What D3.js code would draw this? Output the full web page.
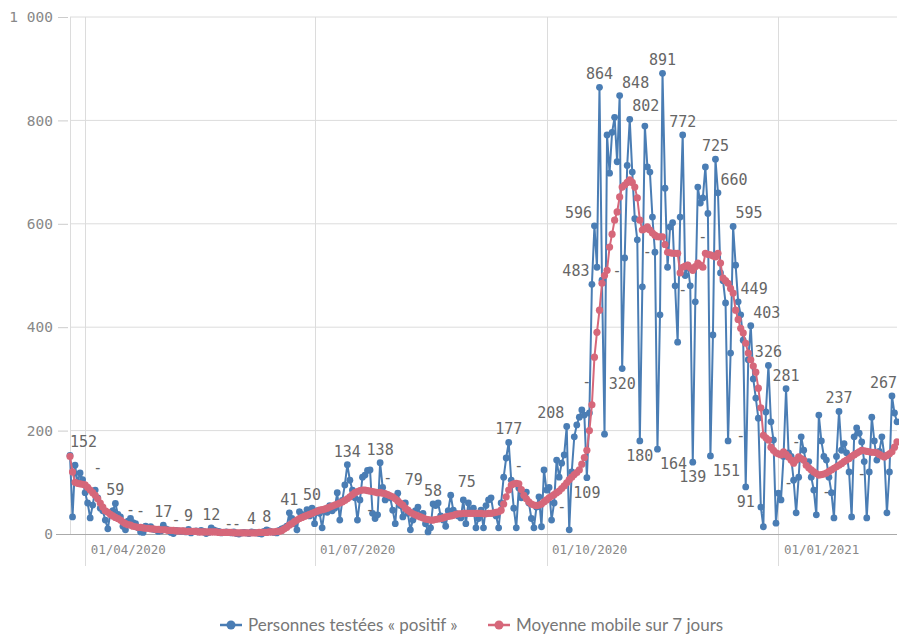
<!DOCTYPE html>
<html>
<head>
<meta charset="utf-8">
<script src="https://cdn.jsdelivr.net/npm/d3@7"></script>
<style>
  body { margin: 0; background: #fff; }
  svg { display: block; }
  .tick text { font-family: "DejaVu Sans Mono", monospace; fill: #888; }
  .lbl { font-family: "DejaVu Sans Mono", monospace; font-size: 15px; fill: #666; }
  .legend text { font-family: Lato, "Open Sans", sans-serif; font-size: 17px; fill: #777; }
</style>
</head>
<body>
<div id="content"></div>
<script>
// Set up canvas
var width = 899, height = 636;

// first and last day of the series
var startDate = "2020-03-26", endDate = "2021-02-17";

// daily positives (one value per day from startDate)
var positifs = [
  152, 33, 133, 100, 118, 105, 80, 60, 31, 56,
  85, 70, 50, 45, 27, 10, 40, 45, 59, 38,
  33, 15, 8, 25, 30, 22, 20, 12, 4, 3,
  15, 12, 14, 9, 8, 5, 6, 17, 10, 8,
  3, 1, 7, 6, 5, 6, 4, 9, 2, 5,
  6, 4, 7, 5, 1, 3, 12, 8, 6, 5,
  2, 3, 4, 3, 2, 4, 1, 0, 2, 3,
  2, 1, 4, 3, 2, 1, 0, 5, 8, 6,
  4, 3, 2, 7, 10, 12, 15, 41, 30, 20,
  8, 43, 38, 35, 47, 35, 50, 20, 45, 40,
  12, 48, 42, 55, 45, 50, 80, 27, 65, 95,
  134, 104, 85, 70, 27, 66, 110, 114, 123, 124,
  40, 30, 37, 138, 90, 66, 75, 70, 46, 20,
  79, 55, 33, 60, 40, 8, 27, 45, 52, 35,
  40, 20, 4, 12, 58, 55, 60, 35, 27, 15,
  45, 75, 46, 40, 35, 31, 66, 20, 60, 45,
  50, 12, 30, 46, 12, 55, 66, 70, 40, 35,
  12, 60, 110, 147, 177, 104, 50, 12, 89, 70,
  75, 81, 60, 30, 12, 52, 72, 14, 124, 85,
  90, 27, 60, 143, 110, 137, 153, 208, 8, 120,
  188, 211, 226, 240, 230, 109, 234, 483, 596, 516,
  864, 491, 193, 772, 698, 777, 806, 720, 848, 320,
  534, 713, 802, 700, 610, 569, 180, 478, 789, 710,
  700, 613, 545, 164, 424, 891, 669, 516, 594, 602,
  480, 371, 613, 772, 500, 520, 480, 139, 449, 671,
  640, 650, 710, 620, 151, 385, 725, 660, 505, 490,
  447, 180, 350, 595, 520, 449, 424, 375, 91, 337,
  403, 300, 263, 224, 52, 14, 236, 326, 217, 182,
  21, 79, 66, 150, 281, 157, 150, 104, 41, 110,
  188, 162, 137, 140, 110, 85, 37, 230, 180, 150,
  143, 110, 80, 31, 150, 237, 162, 175, 157, 120,
  33, 188, 205, 195, 178, 140, 31, 120, 226, 180,
  143, 160, 188, 150, 41, 120, 267, 234, 217
];

// 7 day moving average
var moyenne = [
  150, 120, 100, 98, 97, 96, 95, 90, 85, 80,
  75, 68, 60, 52, 45, 42, 38, 35, 32, 30,
  27, 23, 20, 18, 17, 15, 14, 13, 13, 12,
  11, 11, 10, 10, 9, 9, 8, 8, 8, 7,
  7, 7, 6, 6, 6, 6, 5, 5, 5, 5,
  5, 4, 4, 4, 4, 4, 4, 4, 4, 3,
  3, 3, 3, 3, 3, 2, 2, 2, 2, 2,
  2, 2, 2, 2, 2, 3, 3, 3, 3, 4,
  4, 4, 5, 5, 7, 10, 13, 17, 20, 24,
  27, 30, 32, 34, 36, 38, 40, 42, 44, 46,
  47, 48, 50, 52, 54, 56, 58, 60, 62, 65,
  68, 72, 76, 80, 82, 84, 85, 85, 84, 83,
  82, 81, 80, 80, 79, 78, 76, 74, 72, 68,
  64, 60, 56, 50, 46, 42, 39, 37, 35, 33,
  31, 29, 28, 27, 27, 28, 29, 30, 31, 33,
  34, 35, 36, 38, 39, 39, 40, 40, 40, 40,
  40, 40, 40, 40, 39, 39, 40, 40, 41, 42,
  43, 46, 58, 72, 85, 95, 97, 98, 97, 86,
  75, 68, 62, 58, 56, 55, 56, 58, 62, 66,
  70, 73, 76, 80, 83, 88, 93, 99, 105, 110,
  115, 119, 124, 135, 148, 162, 200, 250, 342, 390,
  433, 485, 500, 510, 555, 580, 607, 623, 652, 671,
  675, 680, 685, 680, 671, 650, 607, 588, 590, 594,
  588, 582, 578, 575, 575, 575, 560, 545, 544, 543,
  543, 543, 505, 516, 518, 520, 515, 510, 517, 524,
  520, 516, 543, 541, 540, 538, 536, 543, 524, 495,
  490, 485, 475, 466, 433, 415, 398, 389, 369, 350,
  337, 325, 313, 282, 244, 191, 186, 182, 168, 162,
  157, 155, 153, 159, 154, 149, 143, 137, 143, 149,
  146, 143, 133, 128, 124, 120, 117, 114, 115, 116,
  118, 121, 124, 127, 130, 133, 136, 140, 143, 146,
  150, 153, 156, 159, 162, 161, 160, 159, 158, 158,
  157, 154, 151, 149, 152, 155, 159, 168, 178
];

// days that carry a value label
var labelDates = [
  "2020-03-26", "2020-04-13", "2020-05-02", "2020-05-12", "2020-05-21",
  "2020-06-06", "2020-06-12", "2020-06-21", "2020-06-30", "2020-07-14",
  "2020-07-27", "2020-08-03", "2020-08-17", "2020-08-24", "2020-09-16",
  "2020-10-09", "2020-10-17", "2020-10-19", "2020-10-20", "2020-10-22",
  "2020-10-30", "2020-10-31", "2020-11-03", "2020-11-07", "2020-11-14",
  "2020-11-16", "2020-11-24", "2020-11-28", "2020-12-05", "2020-12-07",
  "2020-12-08", "2020-12-14", "2020-12-16", "2020-12-19", "2020-12-21",
  "2020-12-28", "2021-01-04", "2021-01-25", "2021-02-15"
];

// the "-" labels (day, level)
var dashDates = [
  "2020-04-06", "2020-04-19", "2020-04-23", "2020-05-07", "2020-05-28",
  "2020-05-31", "2020-07-23", "2020-07-30", "2020-09-20", "2020-10-07",
  "2020-10-17", "2020-10-29", "2020-11-10", "2020-11-24", "2020-12-02",
  "2020-12-17", "2021-01-05", "2021-01-08", "2021-01-20", "2021-02-03"
];
var dashLevels = [128, 46, 44, 27, 19, 19, 46, 108, 132, 52, 294, 509, 545, 472, 574, 190, 99, 178, 81, 116];

var tickDates = ["2020-04-01", "2020-07-01", "2020-10-01", "2021-01-01"];
var yTicks = [0, 200, 400, 600, 800, 1000];

var seriesNames = ["Personnes testées « positif »", "Moyenne mobile sur 7 jours"];
var blue = "#4a7db4", red = "#d6677a";

var parse = d3.timeParse("%Y-%m-%d");
var start = parse(startDate), end = parse(endDate);
var days = d3.timeDay.range(start, d3.timeDay.offset(end, 1));

var svg = d3.select("#content")
    .append("svg")
    .attr("width", width)
    .attr("height", height);

var xscale = d3.scaleTime()
    .domain([start, end])
    .range([70, 897]);

var yscale = d3.scaleLinear()
    .domain([0, 1000])
    .range([534, 17]);

var fr = d3.formatLocale({decimal: ",", thousands: " ", grouping: [3], currency: ["", " €"]});

// horizontal grid
svg.append("g")
    .selectAll("line")
    .data(yTicks.slice(1))
    .join("line")
    .attr("x1", 70).attr("x2", 897)
    .attr("y1", d => yscale(d)).attr("y2", d => yscale(d))
    .attr("stroke", "#dcdcdc");

// vertical grid at the month ticks (reaching below the axis)
var ticks = tickDates.map(parse);
svg.append("g")
    .selectAll("line")
    .data(ticks)
    .join("line")
    .attr("x1", d => Math.round(xscale(d)) + 0.5).attr("x2", d => Math.round(xscale(d)) + 0.5)
    .attr("y1", 17).attr("y2", 566)
    .attr("stroke", "#dcdcdc");

svg.append("line")
    .attr("x1", 70.5).attr("x2", 70.5)
    .attr("y1", 17).attr("y2", 534)
    .attr("stroke", "#dcdcdc");

// y axis
var y_axis = d3.axisLeft(yscale)
    .tickValues(yTicks)
    .tickFormat(fr.format(",d"))
    .tickSizeInner(10)
    .tickSizeOuter(0)
    .tickPadding(5);

var gy = svg.append("g")
    .attr("transform", "translate(68,0)")
    .call(y_axis);
gy.select(".domain").remove();
gy.selectAll(".tick line").attr("stroke", "#ccc");
gy.selectAll(".tick text").style("font-size", "14.5px");

// x axis
var x_axis = d3.axisBottom(xscale)
    .tickValues(ticks)
    .tickFormat(d3.timeFormat("%d/%m/%Y"))
    .tickSize(0)
    .tickPadding(9);

var gx = svg.append("g")
    .attr("transform", "translate(0,534)")
    .call(x_axis);
gx.select(".domain").remove();
gx.selectAll(".tick text")
    .attr("text-anchor", "start")
    .attr("dx", 5)
    .attr("dy", "0.85em")
    .style("font-size", "12.5px");

svg.append("line")
    .attr("x1", 56).attr("x2", 897)
    .attr("y1", 534.5).attr("y2", 534.5)
    .attr("stroke", "#aaa");

var line = d3.line()
    .x((d, i) => xscale(days[i]))
    .y(d => yscale(d));

// daily series
svg.append("path")
    .datum(positifs)
    .attr("fill", "none")
    .attr("stroke", blue)
    .attr("stroke-width", 2)
    .attr("d", line);

svg.append("g")
    .selectAll("circle")
    .data(positifs)
    .join("circle")
    .attr("cx", (d, i) => xscale(days[i]))
    .attr("cy", d => yscale(d))
    .attr("r", 3.4)
    .attr("fill", blue);

// moving average
svg.append("path")
    .datum(moyenne)
    .attr("fill", "none")
    .attr("stroke", red)
    .attr("stroke-width", 2)
    .attr("d", line);

svg.append("g")
    .selectAll("circle")
    .data(moyenne)
    .join("circle")
    .attr("cx", (d, i) => xscale(days[i]))
    .attr("cy", d => yscale(d))
    .attr("r", 3.6)
    .attr("fill", red);

// ---- labels ----
// segments of both lines, used to keep labels off the lines
var segs = [];
[positifs, moyenne].forEach(function(s) {
    for (var i = 1; i < s.length; i++)
        segs.push([xscale(days[i - 1]), yscale(s[i - 1]), xscale(days[i]), yscale(s[i])]);
});

function segHits(s, b) {
    var t0 = 0, t1 = 1, dx = s[2] - s[0], dy = s[3] - s[1];
    var p = [-dx, dx, -dy, dy];
    var q = [s[0] - b.x0, b.x1 - s[0], s[1] - b.y0, b.y1 - s[1]];
    for (var k = 0; k < 4; k++) {
        if (p[k] === 0) { if (q[k] < 0) return false; }
        else {
            var r = q[k] / p[k];
            if (p[k] < 0) { if (r > t1) return false; if (r > t0) t0 = r; }
            else { if (r < t0) return false; if (r < t1) t1 = r; }
        }
    }
    return true;
}

var placed = [];
function conflicts(b) {
    var m = {x0: b.x0 - 2, x1: b.x1 + 2, y0: b.y0 - 2, y1: b.y1 + 2};
    var n = 0;
    placed.forEach(function(p) {
        if (b.x0 < p.x1 && b.x1 > p.x0 && b.y0 < p.y1 && b.y1 > p.y0) n += 10;
    });
    segs.forEach(function(s) { if (segHits(s, m)) n += 1; });
    return n;
}

var labels = svg.append("g");
dashDates.map(parse).forEach(function(d, i) {
    var x = xscale(d), y = yscale(dashLevels[i]) + 5;
    placed.push({x0: x - 3, x1: x + 3, y0: y - 7, y1: y - 2});
    labels.append("text")
        .attr("class", "lbl")
        .attr("x", x)
        .attr("y", y)
        .attr("text-anchor", "middle")
        .text("-");
});

// values: above peaks, below dips, shifted sideways when they would sit on a line
labelDates.map(parse).forEach(function(d) {
    var i = d3.timeDay.count(start, d);
    var v = positifs[i];
    var prev = i > 0 ? positifs[i - 1] : Infinity;
    var next = i < positifs.length - 1 ? positifs[i + 1] : Infinity;
    var dip = v < prev && v < next && v > 60;
    var txt = String(v);
    var w = txt.length * 9;
    var cx = xscale(d), cy = yscale(v);
    var base = dip ? cy + 20 : cy - 8;
    var best = null, bestN = Infinity;
    [0, 16, -16].forEach(function(sh) {
        var x = Math.max(70 + w / 2, Math.min(897 - w / 2, cx + sh));
        var b = {x0: x - w / 2, x1: x + w / 2, y0: base - 11, y1: base};
        var n = conflicts(b);
        if (n < bestN) { bestN = n; best = b; }
    });
    placed.push(best);
    labels.append("text")
        .attr("class", "lbl")
        .attr("x", (best.x0 + best.x1) / 2)
        .attr("y", base)
        .attr("text-anchor", "middle")
        .text(txt);
});

// legend
var legend = svg.append("g").attr("class", "legend");
var legendX = [220, 488];
[blue, red].forEach(function(c, i) {
    var g = legend.append("g").attr("transform", "translate(" + legendX[i] + ",625)");
    g.append("line").attr("x1", 0).attr("x2", 22).attr("stroke", c).attr("stroke-width", 2.5);
    g.append("circle").attr("cx", 11).attr("r", 4.5).attr("fill", c);
    g.append("text").attr("x", 28).attr("dy", "0.35em").text(seriesNames[i]);
});
</script>
</body>
</html>
